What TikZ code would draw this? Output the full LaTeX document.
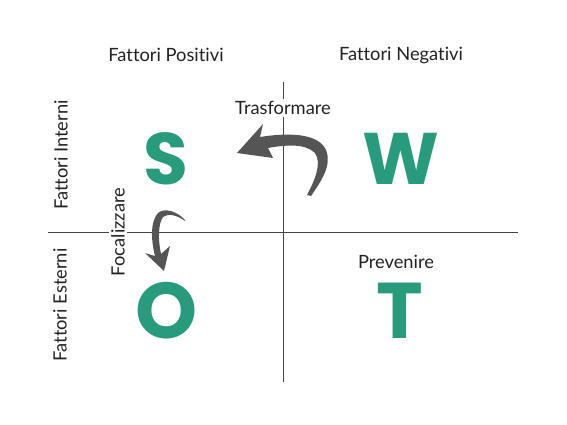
\documentclass[tikz,border=0pt]{standalone}
\usepackage{fontspec}
\setmainfont{Lato}[Ligatures={NoCommon}]
\newfontfamily\letterfont{Poppins}
\definecolor{teal1}{HTML}{289B7D}
\definecolor{arrowgray}{HTML}{555555}
\definecolor{linegray}{HTML}{444444}
\definecolor{txt}{HTML}{222222}
\begin{document}
\begin{tikzpicture}[x=1pt,y=-1pt,
  lbl/.style={font=\fontsize{18.3}{20}\selectfont, text=txt, inner sep=1pt},
  gaplbl/.style={lbl, fill=white, inner sep=2pt},
  bigletter/.style={font=\letterfont\bfseries\fontsize{#1}{#1}\selectfont, text=teal1, inner sep=0pt},
  axis/.style={draw=linegray, line width=0.9pt},
  swoosh/.style={fill=arrowgray, draw=none}]
\useasboundingbox (0,0) rectangle (567,425);
\fill[white] (0,0) rectangle (567,425);
% axes
\coordinate (vtop) at (283.5,82);
\coordinate (vbot) at (283.5,382);
\coordinate (hleft) at (48,232);
\coordinate (hright) at (518,232);
\draw[axis] (vtop) -- (vbot);
\draw[axis] (hleft) -- (hright);
% labels
\node[lbl] (pos) at (166,55) {Fattori Positivi};
\node[lbl] (neg) at (401,55) {Fattori Negativi};
\node[lbl, rotate=90] (int) at (61,155) {Fattori Interni};
\node[lbl, rotate=90] (est) at (60,305) {Fattori Esterni};
\node[gaplbl, rotate=90] (foc) at (118,232) {Focalizzare};
\node[gaplbl] (tra) at (283,108) {Trasformare};
\node[lbl] (prev) at (396,262) {Prevenire};
% letters
\node[bigletter=73] (S) at (166,159) {S};
\node[bigletter=73] (W) at (401,159) {W};
\node[bigletter=79] (O) at (167,311) {O};
\node[bigletter=79] (T) at (400,311) {T};
% Trasformare arrow (W -> S)
\fill[swoosh] (237,153) -- (263,124) -- (260,137)
  .. controls (285,133) and (318,132) .. (326,150)
  .. controls (332,165) and (322,180) .. (311,196)
  -- (307,195)
  .. controls (315,180) and (322,163) .. (315,153)
  .. controls (305,143) and (285,145) .. (268,148)
  -- (273,158) -- cycle;
% Focalizzare arrow (S -> O)
\fill[swoosh] (185,220)
  .. controls (178,212) and (165,207) .. (158,213)
  .. controls (150,222) and (151,240) .. (155,256)
  -- (145,253) -- (164,271) -- (170,246) -- (161,254)
  .. controls (158,240) and (158,224) .. (163,217)
  .. controls (168,213) and (177,215) .. (185,221) -- cycle;
\end{tikzpicture}
\end{document}
